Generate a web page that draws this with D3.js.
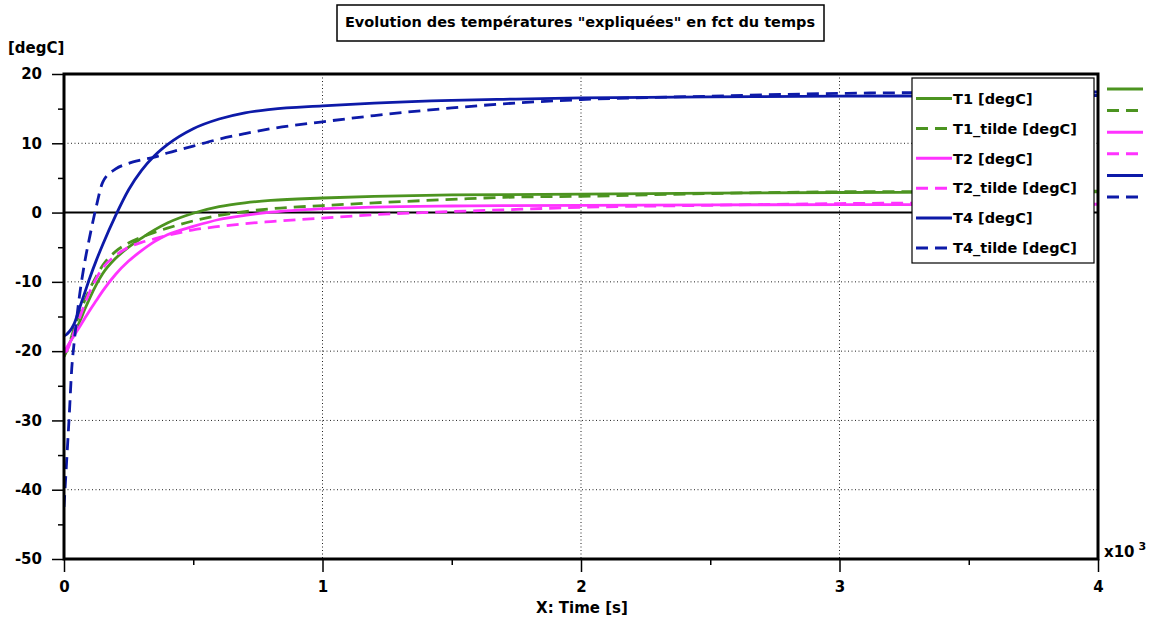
<!DOCTYPE html>
<html>
<head>
<meta charset="utf-8">
<script src="https://cdn.jsdelivr.net/npm/d3@7"></script>
<style>
  body { margin: 0; background: #fff; }
  svg text { font-family: "DejaVu Sans", Verdana, sans-serif; font-weight: bold; fill: #000; }
</style>
</head>
<body>
<div id="chart"></div>
<script>
// temps en secondes
var times = [0, 10, 20, 30, 40, 60, 80, 100, 125, 150, 200, 250, 300, 350, 400, 500, 600, 700, 800, 1000, 1200, 1500, 1700, 2000, 2500, 3000, 3500, 4000];

var T1       = [-20.7, -19.8, -19.0, -18.2, -17.4, -15.8, -14.0, -12.3, -10.4, -8.8, -6.6, -5.0, -3.7, -2.5, -1.5, -0.1, 0.85, 1.4, 1.75, 2.1, 2.35, 2.55, 2.6, 2.65, 2.8, 2.9, 2.95, 3.0];
var T1_tilde = [-20.8, -20.0, -19.0, -17.8, -16.6, -14.6, -12.7, -11.0, -9.2, -7.6, -5.6, -4.4, -3.55, -2.85, -2.25, -1.2, -0.4, 0.15, 0.55, 1.0, 1.4, 1.9, 2.2, 2.35, 2.75, 3.0, 3.05, 3.1];
var T2       = [-20.0, -19.5, -18.9, -18.3, -17.7, -16.5, -15.3, -14.1, -12.7, -11.3, -8.9, -7.0, -5.5, -4.2, -3.2, -2.0, -1.0, -0.4, 0.05, 0.55, 0.8, 0.95, 1.0, 1.05, 1.1, 1.15, 1.15, 1.2];
var T2_tilde = [-20.2, -20.0, -19.2, -18.2, -17.2, -15.2, -13.2, -11.4, -9.5, -8.0, -6.2, -5.0, -4.3, -3.8, -3.3, -2.5, -2.0, -1.6, -1.3, -0.8, -0.3, 0.15, 0.4, 0.75, 1.05, 1.3, 1.4, 1.45];
var T4       = [-17.8, -17.6, -17.2, -16.7, -16.0, -13.8, -11.6, -9.4, -6.9, -4.6, -0.4, 3.3, 6.1, 8.2, 9.8, 12.1, 13.5, 14.4, 14.9, 15.4, 15.8, 16.2, 16.35, 16.55, 16.7, 16.8, 16.85, 16.9];
var T4_tilde = [-42.5, -36.0, -29.5, -22.5, -18.5, -12.0, -7.2, -3.4, 0.9, 4.4, 6.3, 7.1, 7.6, 8.0, 8.6, 9.6, 10.6, 11.4, 12.1, 13.1, 14.0, 15.1, 15.7, 16.3, 16.8, 17.2, 17.35, 17.4];

var seriesNames = ["T1 [degC]", "T1_tilde [degC]", "T2 [degC]", "T2_tilde [degC]", "T4 [degC]", "T4_tilde [degC]"];
var seriesValues = [T1, T1_tilde, T2, T2_tilde, T4, T4_tilde];
var seriesColors = ["#4c9420", "#4c9420", "#ff33ff", "#ff33ff", "#0d1aa8", "#0d1aa8"];
var seriesDashed = [false, true, false, true, false, true];

var yTicks = [-50, -40, -30, -20, -10, 0, 10, 20];
var yMinor = [-45, -35, -25, -15, -5, 5, 15];
var xTicks = [0, 1000, 2000, 3000, 4000];
var xMinor = [500, 1500, 2500, 3500];

var W = 1152, H = 622;
var svg = d3.select("#chart").append("svg")
    .attr("width", W)
    .attr("height", H);

var x = d3.scaleLinear().domain([0, 4000]).range([64, 1098]);
var y = d3.scaleLinear().domain([-50, 20]).range([559, 74]);

// titre
svg.append("rect")
    .attr("x", 337).attr("y", 5).attr("width", 487).attr("height", 36)
    .attr("fill", "#fff").attr("stroke", "#000").attr("stroke-width", 1.5);
svg.append("text")
    .attr("x", 580).attr("y", 27)
    .attr("text-anchor", "middle")
    .style("font-size", "14.5px")
    .text("Evolution des températures \"expliquées\" en fct du temps");

svg.append("text")
    .attr("x", 8).attr("y", 53)
    .style("font-size", "15px")
    .text("[degC]");

// grille pointillée
svg.append("g").selectAll("line")
    .data([1000, 2000, 3000])
    .enter().append("line")
    .attr("x1", function(d) { return x(d); })
    .attr("x2", function(d) { return x(d); })
    .attr("y1", y(20)).attr("y2", y(-50))
    .attr("stroke", "#222").attr("stroke-width", 1)
    .attr("stroke-dasharray", "1,2.5");
svg.append("g").selectAll("line")
    .data([10, -10, -20, -30, -40])
    .enter().append("line")
    .attr("y1", function(d) { return y(d); })
    .attr("y2", function(d) { return y(d); })
    .attr("x1", x(0)).attr("x2", x(4000))
    .attr("stroke", "#222").attr("stroke-width", 1)
    .attr("stroke-dasharray", "1,2.5");

// ligne zero
svg.append("line")
    .attr("x1", x(0)).attr("x2", x(4000))
    .attr("y1", y(0)).attr("y2", y(0))
    .attr("stroke", "#000").attr("stroke-width", 2);

// courbes
svg.append("clipPath").attr("id", "clip")
    .append("rect").attr("x", x(0)).attr("y", y(20))
    .attr("width", x(4000) - x(0)).attr("height", y(-50) - y(20));

var line = d3.line()
    .x(function(d, i) { return x(times[i]); })
    .y(function(d) { return y(d); })
    .curve(d3.curveMonotoneX);

svg.append("g").attr("clip-path", "url(#clip)")
    .selectAll("path")
    .data(seriesValues)
    .enter().append("path")
    .attr("d", line)
    .attr("fill", "none")
    .attr("stroke", function(d, i) { return seriesColors[i]; })
    .attr("stroke-width", 2.8)
    .attr("stroke-dasharray", function(d, i) { return seriesDashed[i] ? "12,7" : null; });

// axes
var axY = svg.append("g").attr("transform", "translate(" + x(0) + ",0)")
    .call(d3.axisLeft(y).tickValues(yTicks).tickSize(12).tickPadding(10).tickSizeOuter(0)
        .tickFormat(function(d) { return String(d); }));
var axYm = svg.append("g").attr("transform", "translate(" + x(0) + ",0)")
    .call(d3.axisLeft(y).tickValues(yMinor).tickSize(6).tickFormat("").tickSizeOuter(0));
var axX = svg.append("g").attr("transform", "translate(0," + y(-50) + ")")
    .call(d3.axisBottom(x).tickValues(xTicks).tickSize(13).tickPadding(9).tickSizeOuter(0)
        .tickFormat(function(d) { return String(d / 1000); }));
var axXm = svg.append("g").attr("transform", "translate(0," + y(-50) + ")")
    .call(d3.axisBottom(x).tickValues(xMinor).tickSize(6).tickFormat("").tickSizeOuter(0));

[axY, axYm, axX, axXm].forEach(function(a) {
    a.select(".domain").remove();
    a.selectAll(".tick line").attr("stroke", "#000").attr("stroke-width", 1.5);
    a.selectAll("text")
        .style("font-family", "'DejaVu Sans', Verdana, sans-serif")
        .style("font-weight", "bold")
        .style("font-size", "15px")
        .attr("fill", "#000");
});

// cadre
svg.append("rect")
    .attr("x", x(0)).attr("y", y(20))
    .attr("width", x(4000) - x(0)).attr("height", y(-50) - y(20))
    .attr("fill", "none").attr("stroke", "#000").attr("stroke-width", 3);

svg.append("text")
    .attr("x", 582).attr("y", 613)
    .attr("text-anchor", "middle")
    .style("font-size", "15px")
    .text("X: Time [s]");

var x10 = svg.append("text")
    .attr("x", 1104).attr("y", 557)
    .style("font-size", "15px");
x10.append("tspan").text("x10");
x10.append("tspan").attr("dx", 4).attr("dy", -7).style("font-size", "11px").text("3");

// légende
var leg = svg.append("g");
leg.append("rect")
    .attr("x", 912).attr("y", 78).attr("width", 182).attr("height", 185)
    .attr("fill", "#fff").attr("stroke", "#000").attr("stroke-width", 1.2);

var item = leg.selectAll("g.item")
    .data(seriesNames)
    .enter().append("g").attr("class", "item")
    .attr("transform", function(d, i) { return "translate(916," + (98.5 + i * 29.9) + ")"; });
item.append("line")
    .attr("x1", 0).attr("x2", 36)
    .attr("stroke", function(d, i) { return seriesColors[i]; })
    .attr("stroke-width", 3)
    .attr("stroke-dasharray", function(d, i) { return seriesDashed[i] ? "12,7" : null; });
item.append("text")
    .attr("x", 37).attr("dy", "0.36em")
    .style("font-size", "14.5px")
    .text(function(d) { return d; });

// petits échantillons à droite
svg.append("g").selectAll("line")
    .data(seriesNames)
    .enter().append("line")
    .attr("x1", 1107).attr("x2", 1143)
    .attr("y1", function(d, i) { return 89 + i * 21.6; })
    .attr("y2", function(d, i) { return 89 + i * 21.6; })
    .attr("stroke", function(d, i) { return seriesColors[i]; })
    .attr("stroke-width", 3)
    .attr("stroke-dasharray", function(d, i) { return seriesDashed[i] ? "12,7" : null; });
</script>
</body>
</html>
